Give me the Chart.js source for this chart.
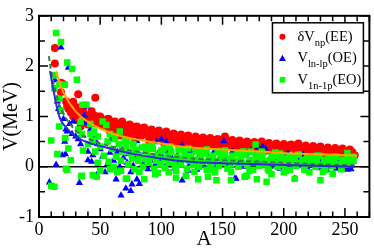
<!DOCTYPE html>
<html>
<head>
<meta charset="utf-8">
<script src="https://cdn.jsdelivr.net/npm/chart.js@4.4.1/dist/chart.umd.min.js"></script>
<style>
  body { margin: 0; background: #fff; }
  canvas { display: block; }
</style>
</head>
<body>
<canvas id="chart" width="374" height="252"></canvas>
<script>
// delta V_np for even-even nuclei (red circles)
const eeA = [13,13,18,20,18,32,46,28,23,26,31,33,40,48,37,30,34,40,44,50,36,42,24,28,46,
  52,54,56,58,60,62,64,66,68,70,72,74,76,78,80,82,84,86,88,90,92,94,96,98,100,102,104,106,108,110,
  112,114,116,118,120,122,124,126,128,130,132,134,136,138,140,142,144,146,148,150,152,154,156,158,160,
  162,164,166,168,170,172,174,176,178,180,182,184,186,188,190,192,194,196,198,200,202,204,206,208,210,
  212,214,216,218,220,222,224,226,228,230,232,234,236,238,240,242,244,246,248,250,252,254,256,258,
  60,64,68,72,76,80,84,88,92,96,100,104,108,112,116,120,124,128,132,136,140,144,148,152,156,160,
  164,168,172,176,180,184,188,192,196,200,204,208,212,216,220,224,228,232,236,240,244,248,252,256,
  22,25,27,29,35,38,41,43,45,47,49,51,53,55,57,
  50,56,62,68,74,80,86,92,98,104,110,116,122,128,134,140,146,152,158,164,170,176,182,188,194,200,
  206,212,218,224,230,236,242,248,254,
  58,66,78,90,102,114,126,138,150,162,174,186,198,210,222,234,246];
const eeV = [2.36,2.05,1.67,1.64,1.48,1.44,1.37,1.29,1.21,1.08,1.18,1.06,1.02,1.0,0.92,0.93,0.8,0.84,0.9,0.95,1.12,0.98,1.15,1.0,0.86,
  0.87,0.82,0.8,0.9,0.76,0.78,0.85,0.72,0.8,0.7,0.76,0.66,0.72,0.68,0.74,0.66,0.62,0.7,0.64,0.66,0.6,0.62,0.58,0.64,0.56,0.6,0.55,0.58,0.52,0.56,
  0.5,0.54,0.52,0.48,0.53,0.5,0.47,0.52,0.46,0.5,0.45,0.48,0.44,0.47,0.43,0.46,0.42,0.45,0.44,0.48,0.52,0.42,0.44,0.4,0.43,
  0.39,0.42,0.38,0.41,0.37,0.4,0.36,0.39,0.35,0.38,0.36,0.34,0.37,0.33,0.36,0.32,0.35,0.31,0.34,0.3,0.33,0.36,0.4,0.42,0.32,
  0.3,0.33,0.29,0.31,0.28,0.3,0.27,0.29,0.26,0.28,0.25,0.27,0.24,0.26,0.25,0.23,0.25,0.22,0.24,0.26,0.22,0.25,0.21,0.23,
  0.88,0.7,0.9,0.64,0.8,0.6,0.76,0.72,0.7,0.68,0.66,0.64,0.6,0.62,0.58,0.6,0.56,0.57,0.55,0.54,0.52,0.53,0.5,0.56,0.5,0.49,
  0.48,0.47,0.46,0.45,0.46,0.44,0.43,0.42,0.41,0.4,0.42,0.38,0.38,0.37,0.36,0.35,0.34,0.33,0.33,0.32,0.31,0.3,0.3,0.29,
  1.3,1.25,1.15,1.1,1.05,0.98,0.95,1.1,1.02,0.92,0.88,0.84,0.92,0.86,0.95,
  1.0,0.95,0.9,0.88,0.84,0.8,0.78,0.74,0.72,0.7,0.66,0.64,0.62,0.6,0.58,0.57,0.55,0.6,0.53,0.52,0.5,0.49,0.5,0.47,0.46,0.45,
  0.44,0.46,0.42,0.41,0.4,0.38,0.37,0.36,0.34,
  0.7,0.62,0.58,0.52,0.48,0.44,0.42,0.4,0.38,0.36,0.34,0.32,0.3,0.3,0.28,0.26,0.24];

// V_ln-lp for odd-even nuclei (blue triangles)
const oeA = [18,24,13,39,18,23,37,38,8.5,14,21,21.6,33,22,30,42,44,40,43,47,40,19,63,67,71,75,76,82,80,54,75,
  59,70,80,96,100,104,117,122,160,151,117,183,161,209,235,252,255,
  15,16,20,25,27,28,32,34,36,45,48,
  50,52,56,58,61,64,66,69,72,73,77,79,83,85,87,89,91,93,95,97,99,101,103,105,107,109,111,113,115,119,
  121,123,125,127,129,131,133,135,137,139,141,143,145,147,149,153,155,157,159,163,165,167,169,171,173,175,
  177,179,181,185,187,189,191,193,195,197,199,201,203,205,207,211,213,215,217,219,221,223,225,227,229,
  231,233,237,239,241,243,245,247,249,251,253,257,
  124,134,146,158,170,192,204,216,228,244];
const oeV = [2.37,1.97,1.72,1.2,1.09,0.7,1.02,0.87,-0.31,0.04,0.5,0.25,-0.32,0.74,0.6,0.74,0.23,0.13,0.1,-0.17,0.3,0.23,-0.25,-0.57,-0.43,-0.48,-0.35,-0.34,-0.25,-0.11,-0.11,
  0.55,0.4,0.51,0.49,0.55,0.49,-0.27,-0.08,-0.24,0.51,0.42,0.4,-0.24,-0.24,-0.06,-0.06,-0.05,
  1.3,1.15,0.95,0.85,0.65,0.9,0.55,0.45,0.62,0.55,0.45,
  0.35,0.2,0.05,0.28,0.12,0.3,0.0,0.18,0.08,0.25,0.02,0.15,0.22,0.06,0.3,-0.05,0.12,0.2,0.04,0.26,0.1,0.18,0.0,0.3,0.08,0.16,-0.04,0.22,0.1,0.14,
  0.28,0.04,0.18,0.1,-0.06,0.22,0.12,0.02,0.26,0.14,0.08,0.3,0.0,0.16,0.1,0.2,0.04,0.12,0.28,0.08,0.16,0.0,0.22,0.1,0.32,0.06,
  0.14,0.38,0.04,0.36,0.12,0.0,0.2,0.08,0.14,-0.04,0.18,0.06,0.26,0.1,0.0,0.16,0.04,0.22,0.08,-0.02,0.14,0.02,0.2,0.06,-0.03,
  0.12,0.02,0.16,0.0,0.1,-0.04,0.14,0.04,0.08,-0.02,0.12,0.1,
  0.3,0.32,0.28,0.3,0.27,0.28,0.25,0.24,0.22,0.2];

// V_1n-1p for even-odd nuclei (green squares)
const eoA = [14,18,23,27,31,12.6,12.6,16.7,21,35.5,38.6,16.7,18,16.6,34,10,21.5,24,26,22,10,12.6,34.6,32,35,42,44,46,48,50,44,36,15,23,35,47,
  71,64,72,86,130,157,144,106,112,177,186,178,200,170,230,252,221,145,168,209,95,120,138,190,240,58,
  40,42,45,48,50,52,53,55,56,57,58,60,61,62,63,65,66,67,68,70,71,73,74,76,77,78,79,81,82,84,85,87,88,90,
  91,93,94,96,97,99,100,102,103,105,106,108,110,111,113,114,116,118,119,121,123,124,126,128,129,131,132,134,
  136,137,139,140,142,144,146,147,149,150,152,154,155,157,158,160,162,163,165,166,168,170,172,173,175,176,
  178,180,182,183,185,187,188,190,192,193,195,197,198,200,202,204,205,207,209,210,212,214,216,217,219,220,
  222,224,226,227,229,231,233,234,236,238,240,241,243,245,247,248,250,253,255,257,
  62,67,72,77,82,87,92,97,102,107,112,117,122,127,132,137,142,147,152,157,162,167,172,177,182,187,
  192,197,202,207,212,217,222,227,232,237,242,247,252,257];
const eoV = [2.66,2.48,2.07,1.94,1.73,1.82,1.56,1.64,1.63,1.23,1.23,1.35,1.12,0.8,0.89,0.52,0.57,0.36,0.13,-0.04,-0.38,-0.4,-0.19,0.74,0.65,0.65,0.52,0.3,0.08,-0.08,-0.17,0.32,0.25,-0.06,-0.18,-0.2,
  -0.24,-0.11,-0.24,-0.25,-0.25,-0.27,-0.11,-0.11,-0.22,0.44,-0.3,-0.25,-0.11,-0.18,-0.27,0.27,-0.11,-0.27,-0.2,-0.24,-0.15,-0.18,-0.2,-0.15,-0.14,-0.05,
  0.45,0.85,0.7,0.6,0.4,0.9,0.22,0.83,0.5,0.1,0.65,0.35,0.0,0.55,0.2,0.45,0.7,0.12,0.3,0.5,0.4,0.05,0.28,0.18,0.42,-0.05,0.33,0.12,0.22,0.38,0.0,0.15,0.3,0.08,
  0.2,0.35,-0.04,0.12,0.25,0.05,0.32,0.15,-0.02,0.22,0.08,0.3,0.12,0.0,0.2,0.34,0.06,0.16,0.26,-0.04,0.12,0.22,0.04,0.3,0.14,0.0,0.2,0.1,
  0.26,-0.06,0.16,0.06,0.22,0.12,0.3,0.02,0.18,0.08,0.24,-0.04,0.14,0.06,0.22,0.12,0.28,0.0,0.18,0.08,0.24,0.04,0.14,0.3,-0.06,0.1,
  0.2,0.02,0.16,0.26,0.06,0.12,-0.08,0.2,0.08,0.28,0.0,0.14,0.22,0.04,0.12,0.2,-0.06,0.1,0.16,0.02,0.24,0.08,0.14,-0.04,0.2,0.06,
  0.12,0.18,0.0,0.1,0.22,0.04,0.14,-0.06,0.08,0.18,0.02,0.12,0.2,0.06,-0.04,0.14,0.04,0.16,0.08,0.2,
  0.6,-0.08,0.52,0.45,-0.1,0.4,0.42,-0.12,0.36,0.4,-0.08,0.33,0.36,-0.1,0.3,0.34,-0.06,0.28,0.32,-0.1,0.26,0.3,-0.08,0.24,0.3,-0.05,
  0.22,0.26,-0.08,0.2,0.24,-0.06,0.2,0.22,-0.1,0.18,0.2,-0.05,0.16,0.12];

// fitted curves
const fitEeA = [14,20,30,40,50,60,70,80,100,120,150,180,210,240,260];
const fitEeV = [1.9,1.47,1.1,0.89,0.76,0.66,0.59,0.54,0.46,0.39,0.34,0.3,0.26,0.24,0.22];
const fitOeA = [9,12,17,22,30,40,52,65,80,98,122,150,180,210,240,258];
const fitOeV = [1.9,1.5,0.97,0.78,0.6,0.48,0.4,0.32,0.24,0.17,0.1,0.07,0.05,0.03,0.01,0.0];
const fitEoA = [8,10,14,20,30,40,52,65,80,100,122,150,180,210,240,258];
const fitEoV = [2.2,1.9,1.45,1.05,0.72,0.56,0.45,0.37,0.3,0.23,0.17,0.13,0.1,0.07,0.04,0.03];

const xTicks = [0, 50, 100, 150, 200, 250];
const yTicks = [-1, 0, 1, 2, 3];

const pts = (xs, ys) => xs.map((x, i) => ({ x: x, y: ys[i] }));
const SERIF = '"Liberation Serif", "DejaVu Serif", serif';

// inside ticks, frame, zero line
const framePlugin = {
  id: 'frame',
  beforeDatasetsDraw(chart) {
    const { ctx, chartArea: a, scales } = chart;
    const y0 = scales.y.getPixelForValue(0);
    ctx.save();
    ctx.strokeStyle = '#000';
    ctx.lineWidth = 1.5;
    ctx.beginPath();
    ctx.moveTo(a.left, y0);
    ctx.lineTo(a.right, y0);
    ctx.stroke();
    ctx.restore();
  },
  afterDatasetsDraw(chart) {
    const { ctx, chartArea: a, scales } = chart;
    ctx.save();
    ctx.strokeStyle = '#000';
    ctx.lineWidth = 1.5;
    ctx.beginPath();
    for (let v = 0; v <= 270; v += 10) {
      const px = scales.x.getPixelForValue(v);
      const len = v % 50 === 0 ? 9 : 5.5;
      ctx.moveTo(px, a.bottom); ctx.lineTo(px, a.bottom - len);
      ctx.moveTo(px, a.top); ctx.lineTo(px, a.top + len);
    }
    for (let v = -1; v <= 3; v += 0.5) {
      const py = scales.y.getPixelForValue(v);
      const len = Number.isInteger(v) ? 9 : 6;
      ctx.moveTo(a.left, py); ctx.lineTo(a.left + len, py);
      ctx.moveTo(a.right, py); ctx.lineTo(a.right - len, py);
    }
    ctx.stroke();
    ctx.lineWidth = 2;
    ctx.strokeRect(a.left, a.top, a.right - a.left, a.bottom - a.top);
    ctx.restore();
  }
};

// legend with subscripts
const legendRows = [
  { main: 'δV', sub: 'np', tail: '(EE)', style: 'circle', color: '#ff0000', r: 3 },
  { main: 'V', sub: 'ln-lp', tail: '(OE)', style: 'triangle', color: '#0000ff', r: 3.5 },
  { main: 'V', sub: '1n-1p', tail: '(EO)', style: 'rect', color: '#00ff00', r: 3.5 }
];
const legendPlugin = {
  id: 'subLegend',
  afterDraw(chart) {
    const { ctx, chartArea: a } = chart;
    const mainFont = '14.5px ' + SERIF;
    const subFont = '10.5px ' + SERIF;
    ctx.save();
    let w = 0;
    legendRows.forEach(r => {
      ctx.font = mainFont;
      let t = ctx.measureText(r.main).width + ctx.measureText(r.tail).width;
      ctx.font = subFont;
      t += ctx.measureText(r.sub).width;
      w = Math.max(w, t);
    });
    const boxW = w + 27, boxH = 70;
    const left = a.right - 6 - boxW, top = a.top + 7;
    ctx.fillStyle = '#fff';
    ctx.fillRect(left, top, boxW, boxH);
    ctx.strokeStyle = '#000';
    ctx.lineWidth = 1.5;
    ctx.strokeRect(left, top, boxW, boxH);
    legendRows.forEach((r, i) => {
      const base = top + 18 + i * 21.5;
      const mx = left + 10, my = base - 4;
      ctx.fillStyle = r.color;
      ctx.beginPath();
      if (r.style === 'circle') ctx.arc(mx, my, r.r, 0, Math.PI * 2);
      else if (r.style === 'triangle') {
        ctx.moveTo(mx, my - r.r);
        ctx.lineTo(mx + r.r, my + r.r * 0.8);
        ctx.lineTo(mx - r.r, my + r.r * 0.8);
        ctx.closePath();
      } else ctx.rect(mx - r.r * 0.8, my - r.r * 0.8, r.r * 1.6, r.r * 1.6);
      ctx.fill();
      ctx.fillStyle = '#000';
      ctx.textBaseline = 'alphabetic';
      ctx.textAlign = 'left';
      let x = left + 25;
      ctx.font = mainFont;
      ctx.fillText(r.main, x, base);
      x += ctx.measureText(r.main).width;
      ctx.font = subFont;
      ctx.fillText(r.sub, x, base + 5);
      x += ctx.measureText(r.sub).width;
      ctx.font = mainFont;
      ctx.fillText(r.tail, x, base);
    });
    ctx.restore();
  }
};

new Chart(document.getElementById('chart'), {
  type: 'scatter',
  data: {
    datasets: [
      { type: 'line', data: pts(fitEeA, fitEeV), borderColor: '#ffa500', borderWidth: 2, pointRadius: 0, tension: 0.4, order: 0 },
      { type: 'line', data: pts(fitOeA, fitOeV), borderColor: '#2b2bd0', borderWidth: 2, pointRadius: 0, tension: 0.4, order: 0 },
      { type: 'line', data: pts(fitEoA, fitEoV), borderColor: '#3d7a45', borderWidth: 2, borderDash: [5, 3], pointRadius: 0, tension: 0.4, order: 0 },
      { label: 'EO', data: pts(eoA, eoV), pointStyle: 'rect', pointRadius: 4.6, backgroundColor: '#00ff00', borderWidth: 0, order: 1 },
      { label: 'OE', data: pts(oeA, oeV), pointStyle: 'triangle', pointRadius: 4.2, backgroundColor: '#0000ff', borderWidth: 0, order: 2 },
      { label: 'EE', data: pts(eeA, eeV), pointStyle: 'circle', pointRadius: 4, backgroundColor: '#ff0000', borderWidth: 0, order: 3 }
    ]
  },
  options: {
    responsive: false,
    animation: false,
    layout: { padding: { top: 6, right: 3, left: 0, bottom: 0 } },
    plugins: { legend: { display: false }, tooltip: { enabled: false } },
    scales: {
      x: {
        type: 'linear', min: 0, max: 270,
        afterBuildTicks: s => { s.ticks = xTicks.map(v => ({ value: v })); },
        afterFit: s => { s.height = 35; },
        grid: { display: false, drawTicks: false },
        border: { display: false },
        ticks: { color: '#000', padding: 2, font: { family: SERIF, size: 18 } },
        title: { display: true, text: 'A', color: '#000', padding: 0, font: { family: SERIF, size: 21 } }
      },
      y: {
        type: 'linear', min: -1, max: 3,
        afterBuildTicks: s => { s.ticks = yTicks.map(v => ({ value: v })); },
        afterFit: s => { s.width = 39; },
        grid: { display: false, drawTicks: false },
        border: { display: false },
        ticks: { color: '#000', padding: 5, font: { family: SERIF, size: 18 } },
        title: { display: true, text: 'V(MeV)', color: '#000', padding: 0, font: { family: SERIF, size: 20 } }
      }
    }
  },
  plugins: [framePlugin, legendPlugin]
});
</script>
</body>
</html>
